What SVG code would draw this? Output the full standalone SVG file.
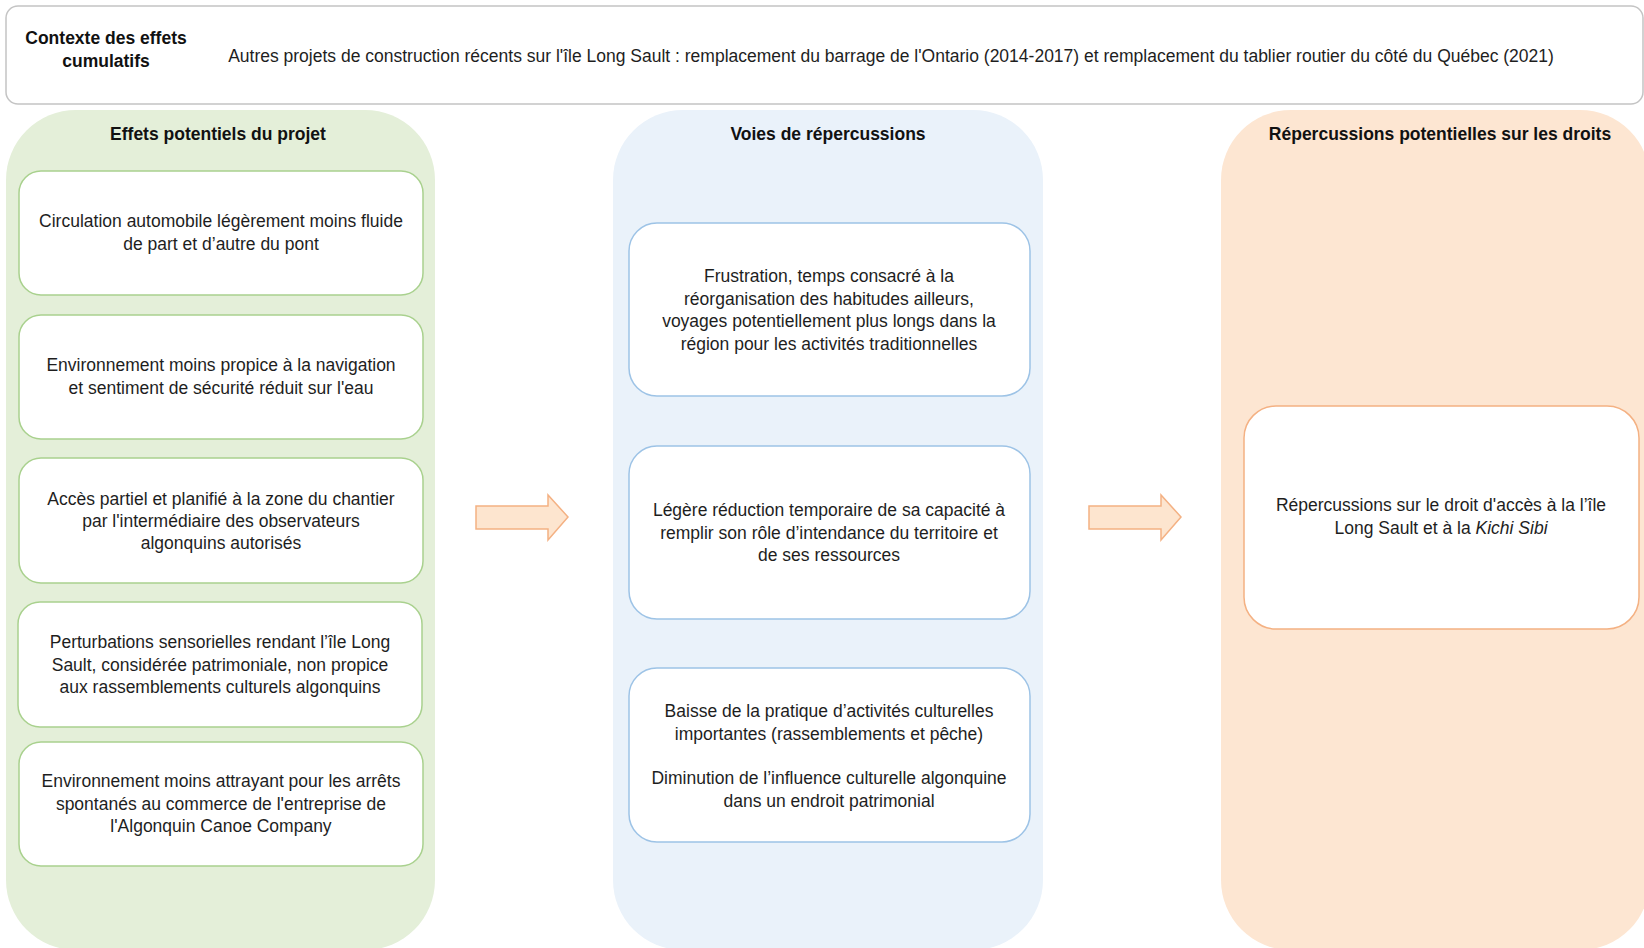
<svg xmlns="http://www.w3.org/2000/svg" width="1644" height="948" viewBox="0 0 1644 948">
<style>
text{font-family:"Liberation Sans",Arial,sans-serif;font-size:17.5px;fill:#1e1e1e;text-anchor:middle}
.b{font-weight:bold;fill:#111}
.top{fill:#fff;stroke:#c4c4c4;stroke-width:1.5}
.pg{fill:#e4efd9}
.pb{fill:#eaf2fa}
.po{fill:#fde6d2}
.ng{fill:#fff;stroke:#a9d18e;stroke-width:1.5}
.nb{fill:#fff;stroke:#9dc3e6;stroke-width:1.5}
.no{fill:#fff;stroke:#f4b183;stroke-width:1.5}
.arr{fill:#fde5cf;stroke:#f4b183;stroke-width:1.5}
</style>
<g id="context">
<rect class="top" x="6" y="6" width="1637" height="98" rx="12"/>
<text class="b" x="106" y="44">Contexte des effets</text>
<text class="b" x="106" y="67">cumulatifs</text>
<text x="891" y="62">Autres projets de construction récents sur l'île Long Sault : remplacement du barrage de l'Ontario (2014-2017) et remplacement du tablier routier du côté du Québec (2021)</text>
</g>
<g id="panel-effets">
<rect class="pg" x="6" y="110" width="429" height="840" rx="70"/>
<text class="b" x="218" y="140">Effets potentiels du projet</text>
</g>
<g id="panel-voies">
<rect class="pb" x="613" y="110" width="430" height="840" rx="70"/>
<text class="b" x="828" y="140">Voies de répercussions</text>
</g>
<g id="panel-droits">
<rect class="po" x="1221" y="110" width="429" height="840" rx="70"/>
<text class="b" x="1440" y="140">Répercussions potentielles sur les droits</text>
</g>
<g id="e1">
<rect class="ng" x="19" y="171" width="404" height="124" rx="22"/>
<text x="221" y="227">Circulation automobile légèrement moins fluide</text>
<text x="221" y="250">de part et d’autre du pont</text>
</g>
<g id="e2">
<rect class="ng" x="19" y="315" width="404" height="124" rx="22"/>
<text x="221" y="371">Environnement moins propice à la navigation</text>
<text x="221" y="394">et sentiment de sécurité réduit sur l'eau</text>
</g>
<g id="e3">
<rect class="ng" x="19" y="458" width="404" height="125" rx="22"/>
<text x="221" y="505">Accès partiel et planifié à la zone du chantier</text>
<text x="221" y="527">par l'intermédiaire des observateurs</text>
<text x="221" y="549">algonquins autorisés</text>
</g>
<g id="e4">
<rect class="ng" x="18" y="602" width="404" height="125" rx="22"/>
<text x="220" y="648">Perturbations sensorielles rendant l’île Long</text>
<text x="220" y="671">Sault, considérée patrimoniale, non propice</text>
<text x="220" y="693">aux rassemblements culturels algonquins</text>
</g>
<g id="e5">
<rect class="ng" x="19" y="742" width="404" height="124" rx="22"/>
<text x="221" y="787">Environnement moins attrayant pour les arrêts</text>
<text x="221" y="810">spontanés au commerce de l'entreprise de</text>
<text x="221" y="832">l'Algonquin Canoe Company</text>
</g>
<g id="v1">
<rect class="nb" x="629" y="223" width="401" height="173" rx="28"/>
<text x="829" y="282">Frustration, temps consacré à la</text>
<text x="829" y="305">réorganisation des habitudes ailleurs,</text>
<text x="829" y="327">voyages potentiellement plus longs dans la</text>
<text x="829" y="350">région pour les activités traditionnelles</text>
</g>
<g id="v2">
<rect class="nb" x="629" y="446" width="401" height="173" rx="28"/>
<text x="829" y="516">Légère réduction temporaire de sa capacité à</text>
<text x="829" y="539">remplir son rôle d’intendance du territoire et</text>
<text x="829" y="561">de ses ressources</text>
</g>
<g id="v3">
<rect class="nb" x="629" y="668" width="401" height="174" rx="28"/>
<text x="829" y="717">Baisse de la pratique d’activités culturelles</text>
<text x="829" y="740">importantes (rassemblements et pêche)</text>
<text x="829" y="784">Diminution de l’influence culturelle algonquine</text>
<text x="829" y="807">dans un endroit patrimonial</text>
</g>
<g id="r1">
<rect class="no" x="1244" y="406" width="395" height="223" rx="32"/>
<text x="1441" y="511">Répercussions sur le droit d'accès à la l’île</text>
<text x="1441" y="534">Long Sault et à la <tspan font-style="italic">Kichi Sibi</tspan></text>
</g>
<g id="connectors">
<path class="arr" d="M476,506 H548 V495 L568,517 L548,540 V529 H476 Z"/>
<path class="arr" d="M1089,506 H1161 V495 L1181,517 L1161,540 V529 H1089 Z"/>
</g>
</svg>
